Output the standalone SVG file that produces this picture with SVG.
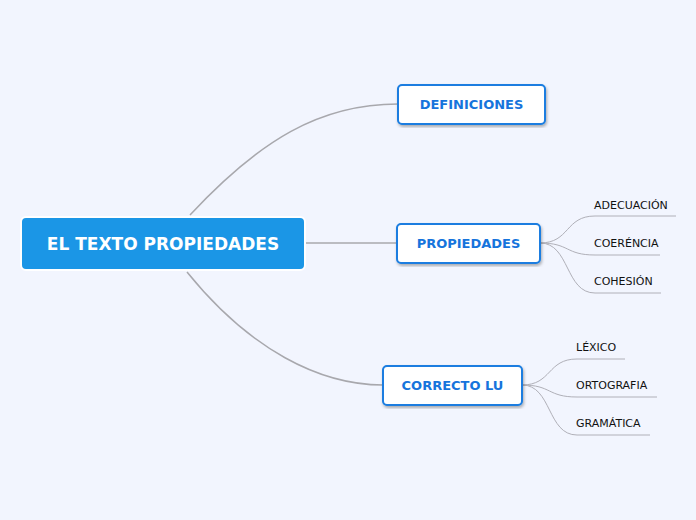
<svg xmlns="http://www.w3.org/2000/svg" width="696" height="520" viewBox="0 0 696 520">
<style>
.c{fill:none;stroke:#a8a8ad;stroke-width:1.5}
.s{fill:none;stroke:#b0b0b8;stroke-width:1}
.n{fill:#fff;stroke:#1a7de0;stroke-width:2}
.t{font-family:"DejaVu Sans",Verdana,sans-serif;font-weight:bold;font-size:13px;fill:#1674dc;text-anchor:middle}
.l{font-family:"DejaVu Sans",Verdana,sans-serif;font-size:11px;fill:#111}
</style>
<defs><filter id="sh"><feDropShadow dx="1" dy="2" stdDeviation="1.5" flood-opacity="0.3"/></filter></defs>
<rect width="696" height="520" fill="#f2f5fe"/>
<g id="connectors">
<path class="c" d="M190 215 C260 140 320 104 398 104"/>
<path class="c" d="M305 243 L397 243"/>
<path class="c" d="M187 272 C250 350 320 385 383 385"/>
<path class="s" d="M540 243 C570 243 565 216 595 216 L676 216"/>
<path class="s" d="M540 243 C570 243 565 255 595 255 L660 255"/>
<path class="s" d="M540 243 C570 243 565 293 595 293 L661 293"/>
<path class="s" d="M522 385 C552 385 547 359 577 359 L625 359"/>
<path class="s" d="M522 385 C552 385 547 397 577 397 L657 397"/>
<path class="s" d="M522 385 C552 385 547 435 577 435 L650 435"/>
</g>
<g id="root"><rect x="21" y="217" width="284" height="53" rx="5" fill="#1b96e6" stroke="#fff" stroke-width="2"/>
<text x="163" y="250" font-family="DejaVu Sans,Verdana,sans-serif" font-weight="bold" font-size="17" fill="#fff" text-anchor="middle">EL TEXTO PROPIEDADES</text></g>
<g id="definiciones"><rect class="n" x="398" y="85" width="147" height="39" rx="4" filter="url(#sh)"/><text class="t" x="471.5" y="109">DEFINICIONES</text></g>
<g id="propiedades"><rect class="n" x="397" y="224" width="143" height="39" rx="4" filter="url(#sh)"/><text class="t" x="468.5" y="248">PROPIEDADES</text></g>
<g id="correcto"><rect class="n" x="383" y="366" width="139" height="39" rx="4" filter="url(#sh)"/><text class="t" x="452.5" y="390">CORRECTO LU</text></g>
<g id="adecuacion"><text class="l" x="594" y="209">ADECUACIÓN</text></g>
<g id="coerencia"><text class="l" x="594" y="247">COERÉNCIA</text></g>
<g id="cohesion"><text class="l" x="594" y="285">COHESIÓN</text></g>
<g id="lexico"><text class="l" x="576" y="351">LÉXICO</text></g>
<g id="ortografia"><text class="l" x="576" y="389">ORTOGRAFIA</text></g>
<g id="gramatica"><text class="l" x="576" y="427">GRAMÁTICA</text></g>
</svg>
